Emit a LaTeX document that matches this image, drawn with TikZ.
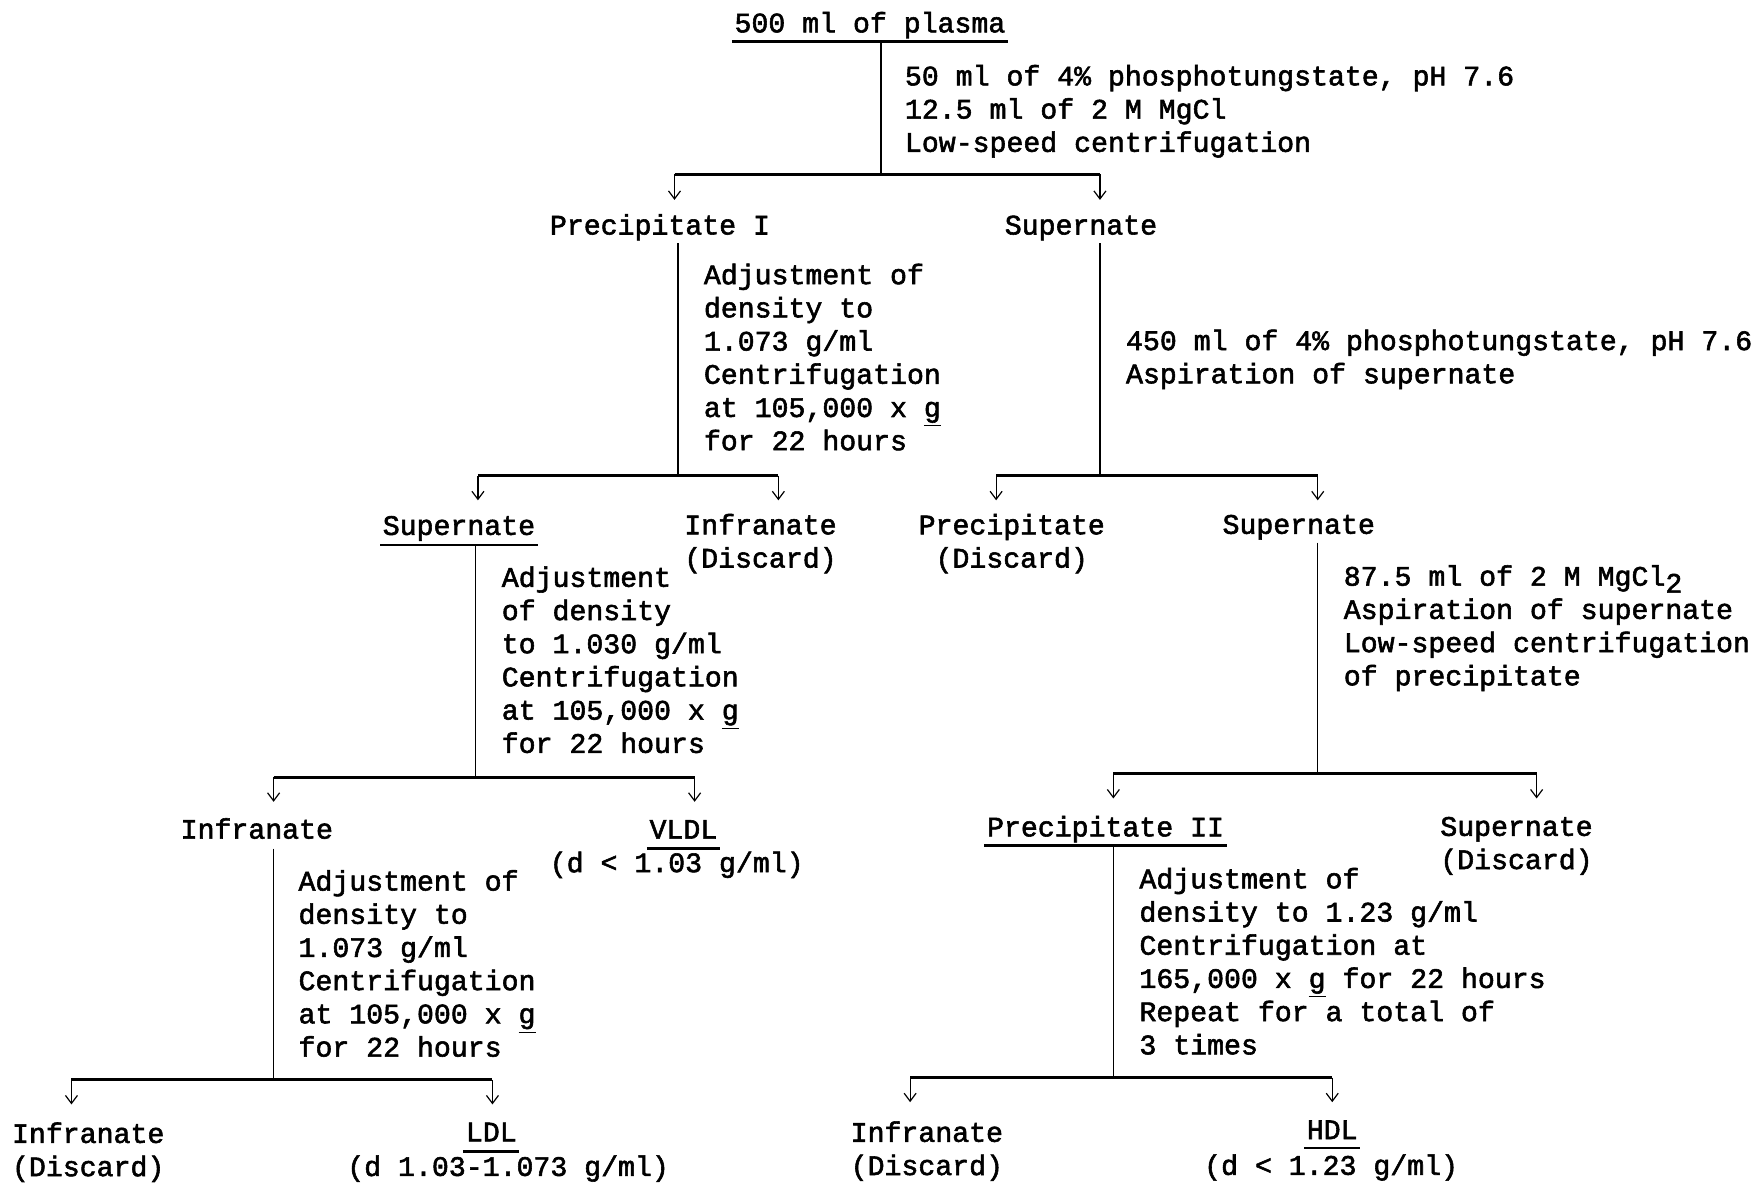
\documentclass[tikz,border=0pt]{standalone}
\usepackage{fontspec}
\setmonofont{Liberation Mono}[FakeBold=2]
\usetikzlibrary{arrows.meta,calc}

\begin{document}
\begin{tikzpicture}[x=0.5583pt,y=-0.5583pt,
  every node/.style={font=\ttfamily\fontsize{14.1}{16.6}\selectfont, inner sep=0pt},
  lbl/.style={anchor=base},
  blk/.style={anchor=north west, align=left},
  cblk/.style={anchor=north, align=center},
  stem/.style={line width=0.75pt},
  bar/.style={line width=1.6pt},
  arr/.style={line width=0.6pt, -{Straight Barb[length=4pt,width=6pt]}},
  ul/.style={line width=1.2pt}]
\useasboundingbox (0,0) rectangle (1568,1059);

% ---- plasma and first precipitation
\node[lbl] (plasma) at (779,29) {500 ml of plasma};
\draw[ul] ($(plasma.base west)+(-2,8)$) -- ($(plasma.base east)+(2,8)$);
\node[blk] (t1) at (810,55.3) {\strut 50 ml of 4\% phosphotungstate, pH 7.6\\12.5 ml of 2 M MgCl\\Low-speed centrifugation};
\coordinate (s1) at (789,37);
\coordinate (j1) at (789,156);
\coordinate (b1l) at (604,156);
\coordinate (b1r) at (985,156);
\coordinate (a1l) at (604,179);
\coordinate (a1r) at (985,179);
\draw[stem] (s1) -- (j1);
\draw[bar] (b1l) -- (b1r);
\draw[arr] (b1l) -- (a1l);
\draw[arr] (b1r) -- (a1r);

\node[lbl] (precI) at (591,210) {Precipitate I};
\node[lbl] (sup1) at (968,210) {Supernate};

% ---- precipitate I: ultracentrifugation at 1.073
\node[blk] (t2) at (630,233.3) {\strut Adjustment of\\density to\\1.073 g/ml\\Centrifugation\\at 105,000 x \underline{g}\\for 22 hours};
\coordinate (s2) at (607,218);
\coordinate (b2l) at (428,426);
\coordinate (j2) at (607,426);
\coordinate (b2r) at (697,426);
\coordinate (a2l) at (428,448);
\coordinate (a2r) at (697,448);
\draw[stem] (s2) -- (j2);
\draw[bar] (b2l) -- (b2r);
\draw[arr] (b2l) -- (a2l);
\draw[arr] (b2r) -- (a2r);

% ---- supernate: second phosphotungstate step
\node[blk] (t3) at (1008,292.3) {\strut 450 ml of 4\% phosphotungstate, pH 7.6\\Aspiration of supernate};
\coordinate (s3) at (985,218);
\coordinate (b3l) at (892,426);
\coordinate (j3) at (985,426);
\coordinate (b3r) at (1180,426);
\coordinate (a3l) at (892,448);
\coordinate (a3r) at (1180,448);
\draw[stem] (s3) -- (j3);
\draw[bar] (b3l) -- (b3r);
\draw[arr] (b3l) -- (a3l);
\draw[arr] (b3r) -- (a3r);

\node[lbl] (sup2) at (411,479) {Supernate};
\draw[ul] ($(sup2.base west)+(-2,9)$) -- ($(sup2.base east)+(2,9)$);
\node[cblk] (inf1) at (681,457.3) {\strut Infranate\\(Discard)};
\node[cblk] (prd1) at (906,457.3) {\strut Precipitate\\(Discard)};
\node[lbl] (sup3) at (1163,478) {Supernate};

% ---- supernate of 1.073 spin: flotation at 1.030
\node[blk] (t4) at (449,504.3) {\strut Adjustment\\of density\\to 1.030 g/ml\\Centrifugation\\at 105,000 x \underline{g}\\for 22 hours};
\coordinate (s4) at (426,488);
\coordinate (b4l) at (245,696);
\coordinate (j4) at (426,696);
\coordinate (b4r) at (622,696);
\coordinate (a4l) at (245,718);
\coordinate (a4r) at (622,718);
\draw[stem] (s4) -- (j4);
\draw[bar] (b4l) -- (b4r);
\draw[arr] (b4l) -- (a4l);
\draw[arr] (b4r) -- (a4r);

% ---- supernate: MgCl2 precipitation
\node[blk] (t5) at (1203,503.3) {\strut 87.5 ml of 2 M MgCl\raisebox{-3.5pt}{2}\\Aspiration of supernate\\Low-speed centrifugation\\of precipitate};
\coordinate (s5) at (1180,486);
\coordinate (b5l) at (997,693);
\coordinate (j5) at (1180,693);
\coordinate (b5r) at (1376,693);
\coordinate (a5l) at (997,715);
\coordinate (a5r) at (1376,715);
\draw[stem] (s5) -- (j5);
\draw[bar] (b5l) -- (b5r);
\draw[arr] (b5l) -- (a5l);
\draw[arr] (b5r) -- (a5r);

\node[lbl] (inf2) at (230,751) {Infranate};
\node[lbl] (vldl) at (612,751) {VLDL};
\draw[ul] ($(vldl.base west)+(-2,9)$) -- ($(vldl.base east)+(2,9)$);
\node[lbl] (vldlr) at (606,781) {(d < 1.03 g/ml)};
\node[lbl] (prc2) at (990,749) {Precipitate II};
\draw[ul] ($(prc2.base west)+(-2,8)$) -- ($(prc2.base east)+(2,8)$);
\node[cblk] (sup4) at (1358,727.3) {\strut Supernate\\(Discard)};

% ---- infranate of 1.030 spin: flotation at 1.073
\node[blk] (t6) at (267,776.3) {\strut Adjustment of\\density to\\1.073 g/ml\\Centrifugation\\at 105,000 x \underline{g}\\for 22 hours};
\coordinate (s6) at (245,760);
\coordinate (b6l) at (64,967);
\coordinate (j6) at (245,967);
\coordinate (b6r) at (441,967);
\coordinate (a6l) at (64,989);
\coordinate (a6r) at (441,989);
\draw[stem] (s6) -- (j6);
\draw[bar] (b6l) -- (b6r);
\draw[arr] (b6l) -- (a6l);
\draw[arr] (b6r) -- (a6r);

% ---- precipitate II: flotation at 1.23
\node[blk] (t7) at (1020,774.3) {\strut Adjustment of\\density to 1.23 g/ml\\Centrifugation at\\165,000 x \underline{g} for 22 hours\\Repeat for a total of\\3 times};
\coordinate (s7) at (997,757);
\coordinate (b7l) at (815,965);
\coordinate (j7) at (997,965);
\coordinate (b7r) at (1193,965);
\coordinate (a7l) at (815,987);
\coordinate (a7r) at (1193,987);
\draw[stem] (s7) -- (j7);
\draw[bar] (b7l) -- (b7r);
\draw[arr] (b7l) -- (a7l);
\draw[arr] (b7r) -- (a7r);

% ---- final fractions
\node[cblk] (inf3) at (79,1002.3) {\strut Infranate\\(Discard)};
\node[lbl] (ldl) at (440,1022) {LDL};
\draw[ul] ($(ldl.base west)+(-2,9)$) -- ($(ldl.base east)+(2,9)$);
\node[lbl] (ldlr) at (455,1053) {(d 1.03-1.073 g/ml)};
\node[cblk] (inf4) at (830,1001.3) {\strut Infranate\\(Discard)};
\node[lbl] (hdl) at (1193,1020) {HDL};
\draw[ul] ($(hdl.base west)+(-2,8)$) -- ($(hdl.base east)+(2,8)$);
\node[lbl] (hdlr) at (1192,1052) {(d < 1.23 g/ml)};
\end{tikzpicture}
\end{document}
